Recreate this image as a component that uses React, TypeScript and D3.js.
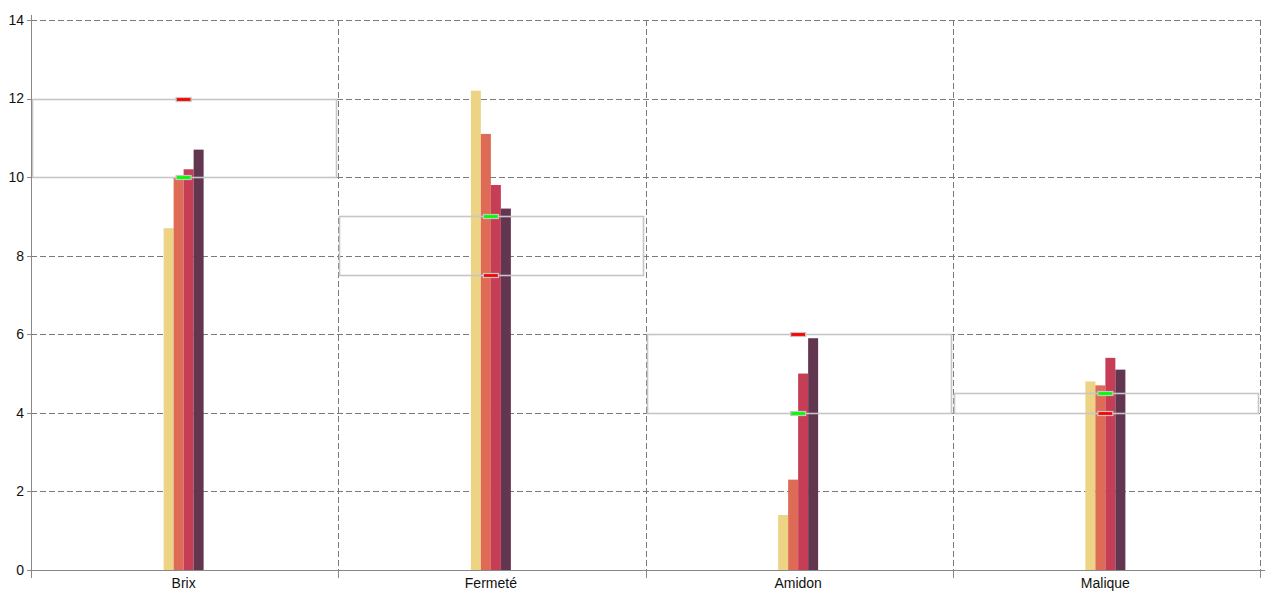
import React from 'react';
import * as d3 from 'd3';

// categories and the four measured series
const categories = ['Brix', 'Fermeté', 'Amidon', 'Malique'];
const series1 = [8.7, 12.2, 1.4, 4.8];
const series2 = [10.0, 11.1, 2.3, 4.7];
const series3 = [10.2, 9.8, 5.0, 5.4];
const series4 = [10.7, 9.2, 5.9, 5.1];
const seriesColors = ['#EDD485', '#DE6B55', '#C63E55', '#633650'];

// target range per category (green and red markers)
const greenTarget = [10, 9, 4, 4.5];
const redTarget = [12, 7.5, 6, 4];

const yTicks = [0, 2, 4, 6, 8, 10, 12, 14];

const W = 1280;
const H = 600;
const left = 31;
const right = 1260;
const top = 20;
const bottom = 570;

export default function App() {
    const x = d3.scaleBand().domain(categories).range([left, right]);
    const y = d3.scaleLinear().domain([0, 14]).range([bottom, top]);
    const inner = d3.scaleBand().domain(['0', '1', '2', '3']).range([-21, 19]);
    const allSeries = [series1, series2, series3, series4];
    const bw = x.bandwidth();
    const edges = categories.map(c => x(c)).concat([right]);
    const ry = (v: number) => Math.round(y(v)) + 0.5;

    return (
        <div style={{position: 'absolute', left: 0, top: 0}}>
            <svg width={W} height={H} style={{display: 'block', fontFamily: '"Liberation Sans", Arial, sans-serif'}}>
                <rect width={W} height={H} fill="#fff" />
                {/* dashed grid */}
                {yTicks.filter(t => t > 0).map(t => (
                    <line key={'g' + t} x1={left} x2={right} y1={ry(t)} y2={ry(t)}
                          stroke="#7a7a7a" strokeWidth={1} strokeDasharray="6,3" />
                ))}
                {edges.slice(1).map((e, i) => (
                    <line key={'v' + i} x1={Math.round(e!) + 0.5} x2={Math.round(e!) + 0.5} y1={top} y2={bottom}
                          stroke="#7a7a7a" strokeWidth={1} strokeDasharray="6,3" />
                ))}

                {/* bars */}
                {categories.map((c, i) => allSeries.map((s, j) => {
                    const cx = x(c)! + bw / 2;
                    return (
                        <rect key={c + j} x={cx + inner(String(j))!} width={inner.bandwidth()}
                              y={y(s[i])} height={bottom - y(s[i])} fill={seriesColors[j]} />
                    );
                }))}

                {/* target boxes */}
                {categories.map((c, i) => {
                    const hi = Math.max(greenTarget[i], redTarget[i]);
                    const lo = Math.min(greenTarget[i], redTarget[i]);
                    return (
                        <rect key={'b' + c} x={Math.round(x(c)!) + 1.5} width={Math.round(bw) - 3}
                              y={ry(hi)} height={ry(lo) - ry(hi)}
                              fill="none" stroke="#c6c6c6" strokeWidth={1.6} />
                    );
                })}
                {categories.map((c, i) => {
                    const cx = x(c)! + bw / 2 - 1;
                    return (
                        <g key={'m' + c}>
                            <rect x={cx - 7.5} y={ry(greenTarget[i]) - 2} width={15} height={4}
                                  fill="#00ff00" stroke="#c6c6c6" strokeWidth={1.2} />
                            <rect x={cx - 7.5} y={ry(redTarget[i]) - 2} width={15} height={4}
                                  fill="#ff0000" stroke="#c6c6c6" strokeWidth={1.2} />
                        </g>
                    );
                })}

                {/* y axis */}
                <line x1={left + 0.5} x2={left + 0.5} y1={15} y2={578} stroke="#888" strokeWidth={1} />
                {yTicks.map(t => (
                    <g key={'y' + t}>
                        <line x1={left - 4} x2={left} y1={ry(t)} y2={ry(t)} stroke="#888" />
                        <text x={left - 7} y={y(t)} dy="0.35em" textAnchor="end" fontSize={14} fill="#111">{t}</text>
                    </g>
                ))}

                {/* x axis */}
                <line x1={left} x2={1265} y1={bottom + 0.5} y2={bottom + 0.5} stroke="#888" strokeWidth={1} />
                {edges.map((e, i) => (
                    <line key={'xt' + i} x1={Math.round(e!) + 0.5} x2={Math.round(e!) + 0.5} y1={bottom} y2={578} stroke="#888" />
                ))}
                {categories.map(c => (
                    <text key={'xl' + c} x={x(c)! + bw / 2 - 1} y={588} textAnchor="middle" fontSize={14} fill="#111">{c}</text>
                ))}
            </svg>
        </div>
    );
}
